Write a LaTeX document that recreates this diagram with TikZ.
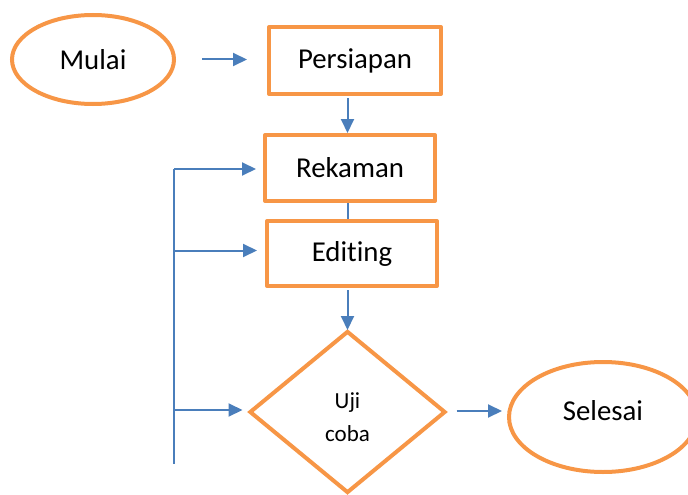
\documentclass[tikz,border=0pt]{standalone}
\usepackage{fontspec}
\setmainfont{Carlito}[Ligatures=NoCommon]
\usetikzlibrary{shapes.geometric,arrows.meta}
\definecolor{flowor}{RGB}{247,150,70}
\definecolor{flowbl}{RGB}{74,126,187}
\begin{document}
\begin{tikzpicture}[x=1pt, y=-1pt,
    term/.style={draw=flowor, line width=4pt, ellipse, inner sep=0pt,
                 font=\fontsize{28.8}{34}\selectfont},
    proc/.style={draw=flowor, line width=4pt, rectangle, line join=round,
                 inner sep=0pt, minimum width=170pt, minimum height=66pt,
                 font=\fontsize{28.8}{34}\selectfont},
    dec/.style={draw=flowor, line width=4pt, diamond, inner sep=0pt,
                minimum width=196pt, minimum height=162pt, align=center,
                font=\fontsize{23}{33}\selectfont},
    arr/.style={-{Triangle[length=14pt, width=13pt]}, draw=flowbl, line width=2pt},
    ln/.style={draw=flowbl, line width=2pt}
]
\useasboundingbox (0,0) rectangle (688,495);

\node[term, minimum width=162pt, minimum height=89pt] (mulai) at (93,59.5) {Mulai};
\node[proc, minimum width=172pt, minimum height=67pt] (persiapan) at (355,60.5) {Persiapan};
\node[proc] (rekaman) at (350,168) {Rekaman};
\node[proc, minimum height=65pt] (editing) at (352,253.5) {Editing};
\node[dec] (uji) at (347.5,412) {\\[-6pt]Uji\\coba};
\node[term, minimum width=188pt, minimum height=110pt, text depth=14pt] (selesai) at (603,417) {Selesai};

\coordinate (bustop) at (174,169);
\coordinate (busbot) at (174,464);

\draw[arr, shorten <=26pt, shorten >=20pt] (mulai.east) -- (persiapan.west |- mulai.east);
\draw[arr, shorten <=2pt] (persiapan.south -| uji.north) -- (rekaman.north -| uji.north);
\draw[ln] (rekaman.south -| uji.north) -- (editing.north -| uji.north);
\draw[arr, shorten <=2pt] (editing.south -| uji.north) -- ([yshift=-1pt]uji.north);
\draw[arr, shorten <=9pt, shorten >=5pt] ([yshift=1pt]uji.east) -- ([yshift=1pt]uji.east -| selesai.west);

% umpan balik
\draw[ln] (bustop) -- (busbot);
\draw[arr, shorten >=7pt] (bustop) -- (bustop -| rekaman.west);
\draw[arr, shorten >=8pt] ([yshift=3pt]editing.west -| bustop) -- ([yshift=3pt]editing.west);
\draw[arr, shorten >=5pt] ([yshift=2pt]uji.west -| bustop) -- ([yshift=2pt]uji.west);
\end{tikzpicture}
\end{document}
